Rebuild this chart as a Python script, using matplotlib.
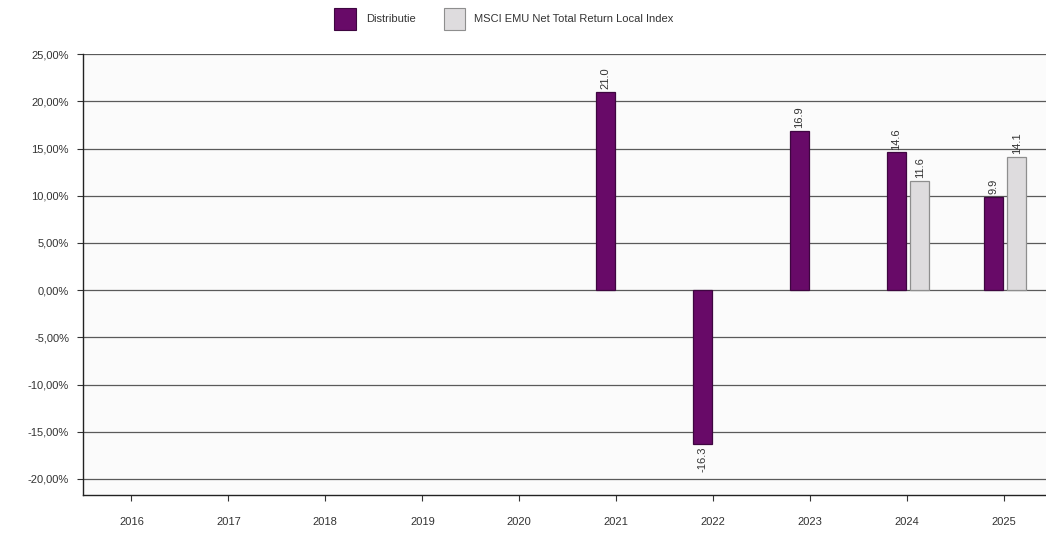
import matplotlib
matplotlib.use("Agg")
import matplotlib.pyplot as plt
from matplotlib.patches import Rectangle
from matplotlib.ticker import FuncFormatter

years = ["2016", "2017", "2018", "2019", "2020", "2021", "2022", "2023", "2024", "2025"]
fund_returns = [None, None, None, None, None, 21.0, -16.3, 16.9, 14.6, 9.9]
index_returns = [None, None, None, None, None, None, None, None, 11.6, 14.1]
series_names = ["Distributie", "MSCI EMU Net Total Return Local Index"]

FUND_COLOR = "#680a68"
FUND_EDGE = "#3e0640"
INDEX_COLOR = "#dedcde"
INDEX_EDGE = "#8e8e8e"

plt.rcParams["font.family"] = ["Liberation Sans Narrow", "Liberation Sans", "DejaVu Sans"]

fig = plt.figure(figsize=(10.46, 5.33), dpi=100)
ax = fig.add_axes([0.0793, 0.0713, 0.927, 0.827])

width = 0.2
x = list(range(len(years)))


def draw_series(values, offset, color, edge):
    for i, v in zip(x, values):
        if v is None:
            continue
        ax.bar(i + offset, v, width=width, color=color, edgecolor=edge, linewidth=0.9, zorder=3)
        if v >= 0:
            ax.text(i + offset, v + 0.3, f"{v:.1f}", rotation=90, ha="center", va="bottom",
                    fontsize=8, color="#333333", zorder=4)
        else:
            ax.text(i + offset, v - 0.3, f"{v:.1f}", rotation=90, ha="center", va="top",
                    fontsize=8, color="#333333", zorder=4)


draw_series(fund_returns, -0.11, FUND_COLOR, FUND_EDGE)
draw_series(index_returns, 0.13, INDEX_COLOR, INDEX_EDGE)

ax.set_xlim(-0.5, len(years) - 0.5)
ax.set_ylim(-21.7, 25)
ax.set_yticks(range(-20, 26, 5))
ax.yaxis.set_major_formatter(FuncFormatter(lambda v, _: f"{v:.2f}%".replace(".", ",")))
ax.set_xticks(x)
ax.set_xticklabels(years)
ax.tick_params(axis="both", labelsize=8, colors="#333333", length=4, width=0.8, pad=6)
ax.tick_params(axis="x", pad=12)

ax.grid(axis="y", color="#5a5a5a", linewidth=0.9, zorder=1)
ax.set_facecolor("#fbfbfb")
for side in ["top", "right"]:
    ax.spines[side].set_visible(False)
for side in ["left", "bottom"]:
    ax.spines[side].set_color("#222222")
    ax.spines[side].set_linewidth(1.0)

# legend row above the plot
fig.patches.append(Rectangle((334 / 1046, 1 - 30 / 533), 22 / 1046, 22 / 533,
                             transform=fig.transFigure, facecolor=FUND_COLOR,
                             edgecolor=FUND_EDGE, linewidth=0.8))
fig.text(366 / 1046, 1 - 19 / 533, series_names[0], fontsize=8, va="center", color="#333333")
fig.patches.append(Rectangle((444 / 1046, 1 - 30 / 533), 21 / 1046, 22 / 533,
                             transform=fig.transFigure, facecolor=INDEX_COLOR,
                             edgecolor=INDEX_EDGE, linewidth=0.8))
fig.text(474 / 1046, 1 - 19 / 533, series_names[1], fontsize=8, va="center", color="#333333")

fig.savefig("out.png", dpi=100)
